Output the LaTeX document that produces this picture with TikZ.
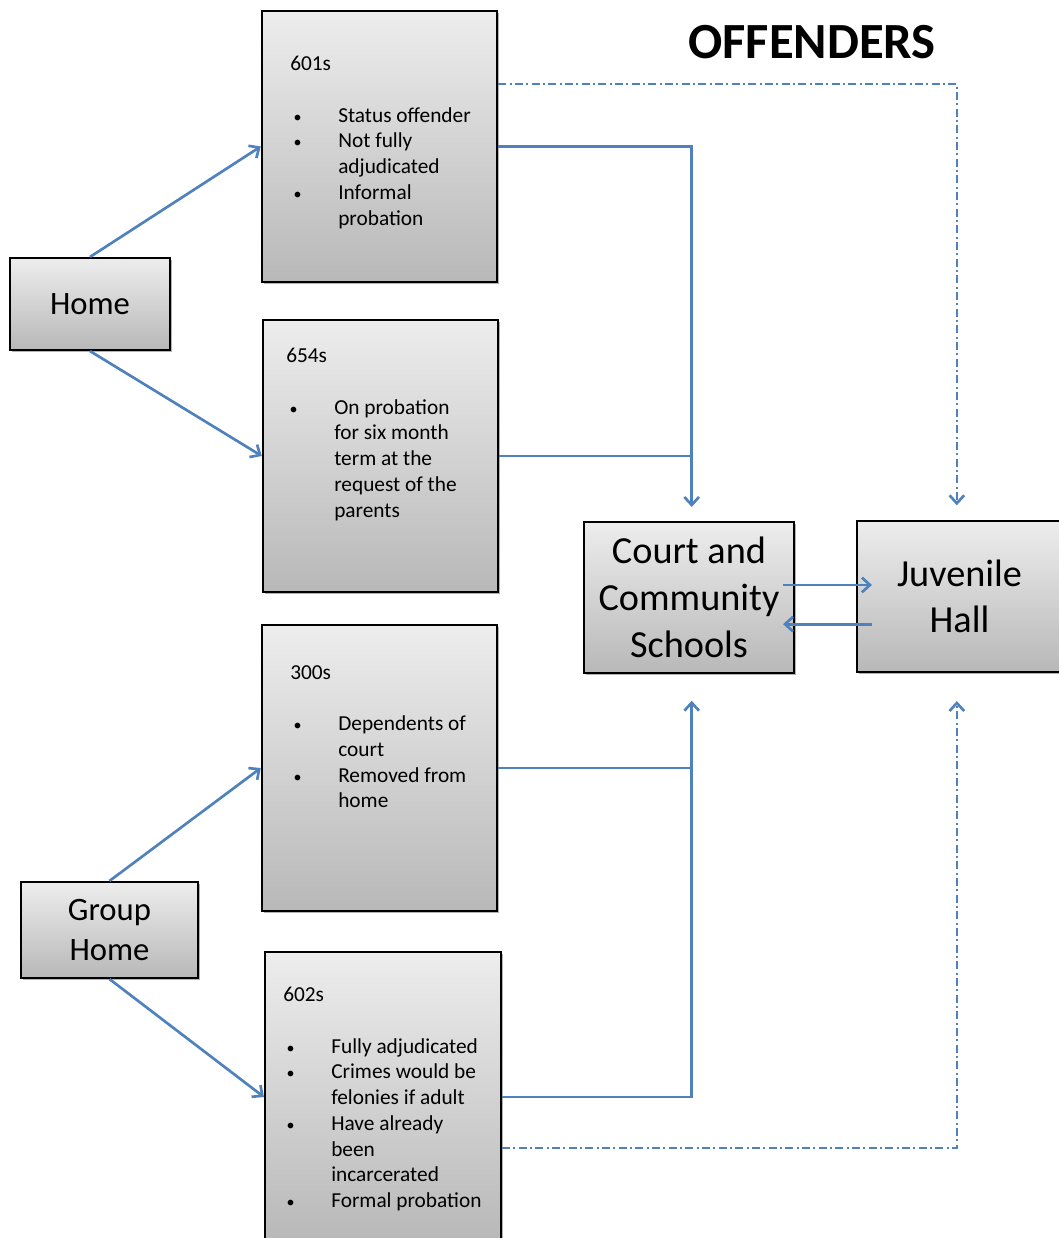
\documentclass[tikz,border=0pt]{standalone}
\usepackage{fontspec}
\setmainfont{Carlito}
\usetikzlibrary{arrows.meta,positioning,shadows}

\definecolor{linkblue}{HTML}{4F81BD}
\definecolor{boxtop}{HTML}{EDEDED}
\definecolor{boxbot}{HTML}{B8B8B8}
\newcommand{\bul}{\makebox[36pt][l]{\hspace{2.5pt}\fontsize{12}{14}\selectfont\textbullet}}
\newcommand{\cnt}{\hspace*{36pt}}

\begin{document}
\begin{tikzpicture}[
    x=0.75pt, y=-0.75pt,
    >={Straight Barb[length=6pt,width=11pt]},
    box/.style={rectangle, draw=black, line width=1.6pt, top color=boxtop, bottom color=boxbot,
        drop shadow={shadow xshift=1.5pt, shadow yshift=-1.5pt, opacity=0.3, fill=black},
        inner sep=0pt, align=center},
    place/.style={box, font=\fontsize{28.7}{35}\selectfont},
    house/.style={box, font=\fontsize{24.5}{30}\selectfont},
    group/.style={box, minimum width=176.5pt},
    listtxt/.style={anchor=north west, inner sep=0pt, align=left, font=\fontsize{16}{19.3}\selectfont},
    link/.style={draw=linkblue, line width=2pt},
    maybe/.style={link, dash pattern=on 6pt off 2.5pt on 1.5pt off 2.5pt},
    font=\small
]
\useasboundingbox (0,0) rectangle (1059,1238);

\node[font=\bfseries\fontsize{38}{46}\selectfont] (title) at (812,42) {OFFENDERS};

\node[house, minimum width=120pt, minimum height=69pt] (home) at (90,304) {Home};
\node[house, minimum width=132.75pt, minimum height=72pt] (ghome) at (109.5,930) {Group\\Home};

\node[group, minimum height=203.25pt] (b601) at (379.5,146.5) {};
\node[group, minimum height=204pt] (b654) at (380.5,456) {};
\node[group, minimum height=214.5pt] (b300) at (379.5,768) {};
\node[group, minimum width=177pt, minimum height=217.5pt] (b602) at (383,1097) {};

\node[listtxt] (t601) at (290,56) {601s\\[19.3pt]
    \bul Status offender\\ \bul Not fully\\ \cnt adjudicated\\ \bul Informal\\ \cnt probation};
\node[listtxt] (t654) at (286,348) {654s\\[19.3pt]
    \bul On probation\\ \cnt for six month\\ \cnt term at the\\ \cnt request of the\\ \cnt parents};
\node[listtxt] (t300) at (290,665) {300s\\[19.3pt]
    \bul Dependents of\\ \cnt court\\ \bul Removed from\\ \cnt home};
\node[listtxt] (t602) at (283,987) {602s\\[19.3pt]
    \bul Fully adjudicated\\ \bul Crimes would be\\ \cnt felonies if adult\\ \bul Have already\\ \cnt been\\ \cnt incarcerated\\ \bul Formal probation};

\node[place, minimum width=157.5pt, minimum height=113.25pt] (court) at (689,597.5) {Court and\\Community\\Schools};
\node[place, minimum width=153.75pt, minimum height=113.25pt] (juv) at (959.5,596.5) {Juvenile\\Hall};

\draw[link, ->] (home.north) -- (b601.west);
\draw[link, ->] (home.south) -- (b654.west);
\draw[link, ->] (ghome.north) -- (b300.west);
\draw[link, ->] (ghome.south) -- (b602.west);

\draw[link, ->] (b601.east) -| ([xshift=2pt,yshift=10.5pt]court.north);
\draw[link] (b654.east) -- ([xshift=2pt]b654.east -| court.north);
\draw[link, ->] (b602.east) -| ([xshift=2pt,yshift=-20pt]court.south);
\draw[link] (b300.east) -- ([xshift=2pt]b300.east -| court.south);

\draw[maybe, ->] ([yshift=-55.5pt]b601.north east) -| ([xshift=-2pt,yshift=11pt]juv.north);
\draw[maybe, ->] ([yshift=-38.25pt]b602.east) -| ([xshift=-2pt,yshift=-21pt]juv.south);

\coordinate (c1) at ([xshift=-9pt,yshift=9.4pt]court.east);
\coordinate (c2) at ([xshift=-9pt,yshift=-20pt]court.east);
\coordinate (jw) at ([xshift=12pt]juv.west);
\draw[link, ->] (c1) -- (c1 -| jw);
\draw[link, ->] (c2 -| jw) -- (c2);

\end{tikzpicture}
\end{document}
